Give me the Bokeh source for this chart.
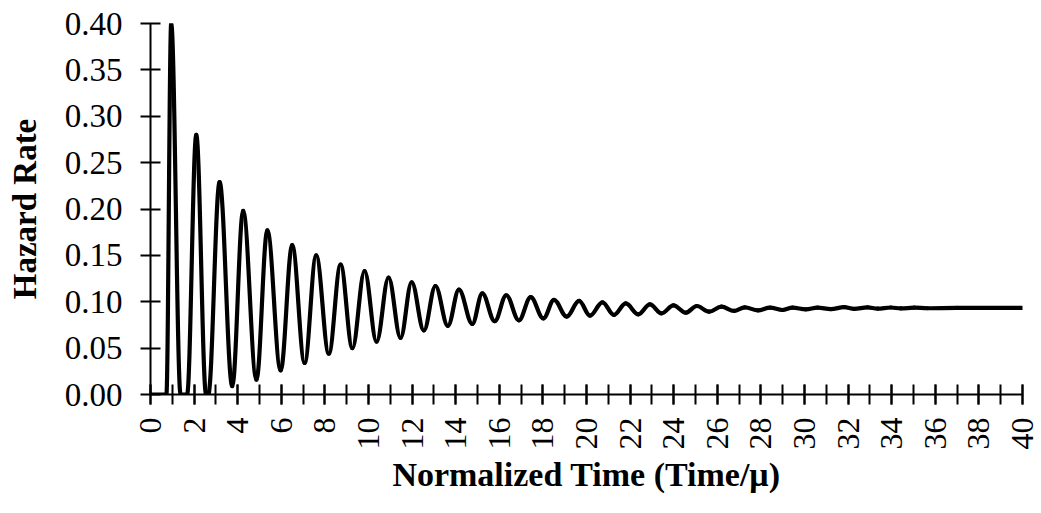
import math
from bokeh.plotting import figure
from bokeh.models import Range1d, FixedTicker, ColumnDataSource
from bokeh.embed import file_html
from bokeh.resources import INLINE

# Curve (turning points of the damped oscillation)
time_points = [
    0.00, 0.73, 0.95, 1.38, 1.68, 2.10, 2.55, 2.65, 3.17, 3.75, 4.25, 4.86,
    5.36, 5.97, 6.50, 7.07, 7.60, 8.18, 8.72, 9.26, 9.82, 10.37, 10.92, 11.47,
    11.98, 12.54, 13.07, 13.64, 14.15, 14.76, 15.22, 15.79, 16.32, 16.90,
    17.44, 18.02, 18.51, 19.09, 19.66, 20.16, 20.73, 21.26, 21.80, 22.38,
    22.91, 23.44, 23.99, 24.55, 25.06, 25.62, 26.19, 26.77, 27.26, 27.87,
    28.42, 28.99, 29.45, 30.06, 30.60, 31.21, 31.82, 32.28, 32.89, 33.35,
    33.96, 34.42, 35.03, 35.64, 37.00, 40.00,
]
hazard_points = [
    0.000, 0.000, 0.400, 0.000, 0.000, 0.280, 0.000, 0.000, 0.229, 0.009,
    0.198, 0.016, 0.177, 0.026, 0.161, 0.034, 0.150, 0.044, 0.140, 0.050,
    0.133, 0.057, 0.126, 0.061, 0.121, 0.069, 0.117, 0.074, 0.113, 0.076,
    0.109, 0.079, 0.107, 0.080, 0.105, 0.082, 0.102, 0.084, 0.101, 0.085,
    0.0993, 0.0858, 0.0982, 0.0864, 0.0972, 0.0875, 0.0961, 0.0882, 0.0954,
    0.0893, 0.0947, 0.0901, 0.0939, 0.0907, 0.0936, 0.0911, 0.0936, 0.0918,
    0.0936, 0.0920, 0.0942, 0.0924, 0.0940, 0.0926, 0.0938, 0.0928, 0.0936,
    0.0930, 0.0933, 0.0933,
]

x_major_ticks = list(range(0, 41, 2))
x_minor_ticks = list(range(0, 41, 1))
y_ticks = [0.00, 0.05, 0.10, 0.15, 0.20, 0.25, 0.30, 0.35, 0.40]
y_tick_labels = ["0.00", "0.05", "0.10", "0.15", "0.20", "0.25", "0.30", "0.35", "0.40"]

x_title = "Normalized Time (Time/\u03bc)"
y_title = "Hazard Rate"

FONT = "Liberation Serif"

# smooth rendering between consecutive turning points (horizontal tangents)
K = 1 - 2 / math.pi
seg = dict(x0=[], y0=[], x1=[], y1=[], cx0=[], cy0=[], cx1=[], cy1=[])
for i in range(len(time_points) - 1):
    xa_, xb_ = time_points[i], time_points[i + 1]
    ya_, yb_ = hazard_points[i], hazard_points[i + 1]
    dx = xb_ - xa_
    seg["x0"].append(xa_); seg["y0"].append(ya_)
    seg["x1"].append(xb_); seg["y1"].append(yb_)
    seg["cx0"].append(xa_ + K * dx); seg["cy0"].append(ya_)
    seg["cx1"].append(xb_ - K * dx); seg["cy1"].append(yb_)
src = ColumnDataSource(seg)

p = figure(
    width=1041, height=513,
    x_range=Range1d(0, 40), y_range=Range1d(0, 0.40),
    output_backend="svg", toolbar_location=None,
    min_border_left=150, min_border_right=19,
    min_border_top=23, min_border_bottom=119,
)
p.outline_line_color = None
p.xgrid.visible = False
p.ygrid.visible = False
p.background_fill_color = "white"
p.border_fill_color = "white"

p.bezier(x0="x0", y0="y0", x1="x1", y1="y1", cx0="cx0", cy0="cy0",
         cx1="cx1", cy1="cy1", source=src, line_color="black",
         line_width=4.2, line_cap="round")

# x axis
xa = p.xaxis[0]
xa.ticker = FixedTicker(ticks=x_major_ticks, minor_ticks=x_minor_ticks)
xa.axis_line_width = 2
xa.major_tick_line_width = 2
xa.minor_tick_line_width = 2
xa.major_tick_in = 10
xa.major_tick_out = 10
xa.minor_tick_in = 10
xa.minor_tick_out = 10
xa.major_label_orientation = math.pi / 2
xa.major_label_text_font = FONT
xa.major_label_text_font_size = "32px"
xa.major_label_text_color = "black"
xa.major_label_standoff = 13
xa.axis_label = x_title
xa.axis_label_text_font = FONT
xa.axis_label_text_font_style = "bold"
xa.axis_label_text_font_size = "34px"
xa.axis_label_text_color = "black"
xa.axis_label_standoff = 3

# y axis
ya = p.yaxis[0]
ya.ticker = FixedTicker(ticks=y_ticks, minor_ticks=[])
ya.major_label_overrides = {t: s for t, s in zip(y_ticks, y_tick_labels)}
ya.axis_line_width = 2
ya.major_tick_line_width = 2
ya.major_tick_in = 10
ya.major_tick_out = 10
ya.major_label_text_font = FONT
ya.major_label_text_font_size = "33px"
ya.major_label_text_color = "black"
ya.major_label_standoff = 18
ya.axis_label = y_title
ya.axis_label_text_font = FONT
ya.axis_label_text_font_style = "bold"
ya.axis_label_text_font_size = "33px"
ya.axis_label_text_color = "black"
ya.axis_label_standoff = 19

open("out.html", "w").write(file_html(p, INLINE))
